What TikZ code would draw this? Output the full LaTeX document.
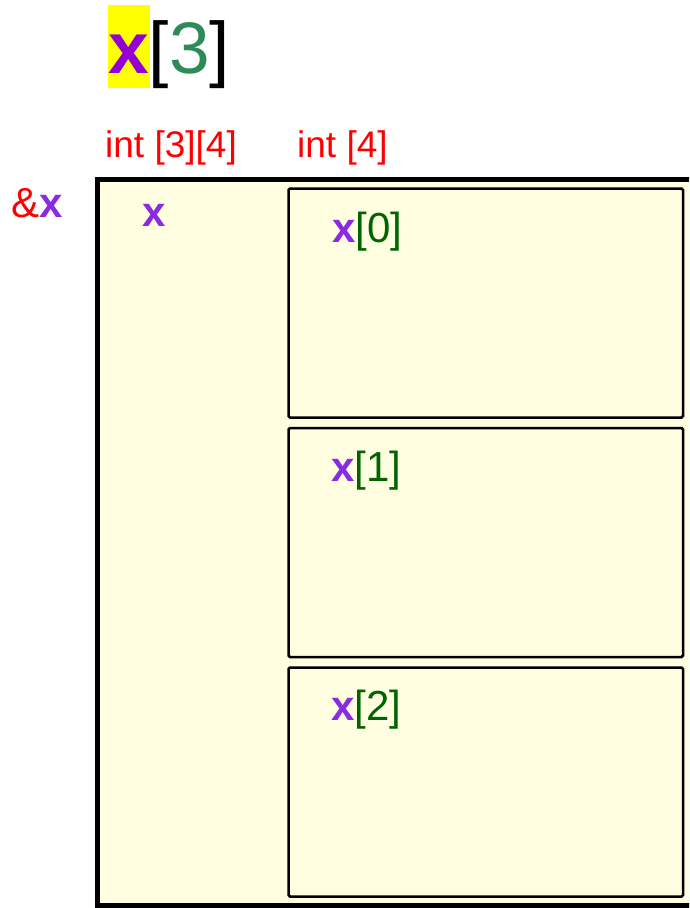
\documentclass[tikz,border=0pt]{standalone}
\usepackage{fontspec}
\setmainfont{Liberation Sans}
\definecolor{vpurple}{HTML}{8A2BE2}
\definecolor{tpurple}{HTML}{9400D3}
\definecolor{dgreen}{HTML}{006400}
\definecolor{sgreen}{HTML}{2E8B57}
\definecolor{boxfill}{HTML}{FFFEE0}
\definecolor{hl}{HTML}{FFFF00}
\tikzset{
  lbl/.style={anchor=base west, inner sep=0pt, font=\fontsize{37}{37}\selectfont},
  biglbl/.style={anchor=base west, inner sep=0pt, font=\fontsize{42}{42}\selectfont},
  outerbox/.style={draw=black, line width=5pt, fill=boxfill},
  innerbox/.style={draw=black, line width=2.5pt, fill=boxfill, rounded corners=1.5pt},
}
\begin{document}
\begin{tikzpicture}[x=1pt,y=-1pt]
\useasboundingbox (0,0) rectangle (689,908);
\clip (0,0) rectangle (689,908);
% outer box
\draw[outerbox] (97.5,179) rectangle (720,905.5);
% inner boxes
\path[innerbox] (288.5,188.5) rectangle (683,417.5);
\path[innerbox] (288.5,428) rectangle (683,657);
\path[innerbox] (288.5,667.5) rectangle (683,896.5);
% title
\fill[hl] (108,5) rectangle (150,88);
\node[anchor=base west, inner sep=0pt, font=\fontsize{73}{73}\selectfont] (title) at (108,73)
  {\textcolor{tpurple}{\textbf{x}}[\textcolor{sgreen}{3}]};
% type labels
\node[lbl, text=red] (t1) at (105,157) {int [3][4]};
\node[lbl, text=red] (t2) at (297,157) {int [4]};
% address
\node[biglbl] (addr) at (11,217) {\textcolor{red}{\&}\textcolor{vpurple}{\textbf{x}}};
\node[biglbl, text=vpurple] (xname) at (142,226) {\textbf{x}};
% element labels
\node[biglbl] (e0) at (332,242) {\textcolor{vpurple}{\textbf{x}}\textcolor{dgreen}{[0]}};
\node[biglbl] (e1) at (331,481) {\textcolor{vpurple}{\textbf{x}}\textcolor{dgreen}{[1]}};
\node[biglbl] (e2) at (331,720) {\textcolor{vpurple}{\textbf{x}}\textcolor{dgreen}{[2]}};
\end{tikzpicture}
\end{document}
